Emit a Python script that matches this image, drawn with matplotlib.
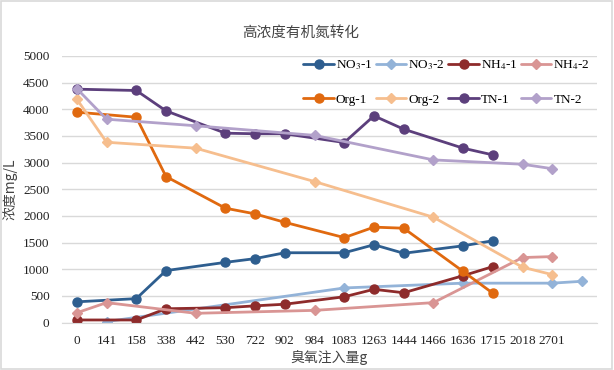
import numpy as np
import matplotlib
matplotlib.use('Agg')
import matplotlib.pyplot as plt
from matplotlib.patches import Rectangle

plt.rcParams['font.family'] = ['Liberation Serif', 'Noto Sans CJK SC']
plt.rcParams['mathtext.fontset'] = 'stix'

# ozone dose categories (last slot has no label)
categories = ['0', '141', '158', '338', '442', '530', '722', '902', '984', '1083',
              '1263', '1444', '1466', '1636', '1715', '2018', '2701', '']

N = None
no3_1 = [390, N, 450, 975, N, 1130, 1200, 1310, N, 1310, 1460, 1300, N, 1440, 1535, N, N, N]
no3_2 = [N, 20, N, N, N, N, N, N, N, 650, N, N, N, 740, N, N, 740, 775]
nh4_1 = [50, N, 50, 260, N, 280, 315, 345, N, 485, 625, 560, N, 880, 1050, N, N, N]
nh4_2 = [185, 375, N, N, 175, N, N, N, 230, N, N, N, 375, N, N, 1220, 1238, N]
org_1 = [3945, N, 3850, 2738, N, 2145, 2038, 1880, N, 1594, 1790, 1770, N, 960, 551, N, N, N]
org_2 = [4188, 3381, N, N, 3270, N, N, N, 2644, N, N, N, 1976, N, N, 1039, 900, N]
tn_1 = [4376, N, 4351, 3969, N, 3551, 3540, 3540, N, 3376, 3876, 3626, N, 3270, 3144, N, N, N]
tn_2 = [4385, 3813, N, N, 3690, N, N, N, 3510, N, N, N, 3050, N, N, 2969, 2885, N]

series = [
    ('NO$_3$-1', no3_1, '#2E5E8F', 'o'),
    ('NO$_3$-2', no3_2, '#93B3D8', 'D'),
    ('NH$_4$-1', nh4_1, '#8E2B2B', 'o'),
    ('NH$_4$-2', nh4_2, '#D99594', 'D'),
    ('Org-1', org_1, '#E0690F', 'o'),
    ('Org-2', org_2, '#F6BE8E', 'D'),
    ('TN-1', tn_1, '#5C3F7C', 'o'),
    ('TN-2', tn_2, '#B2A1CA', 'D'),
]

fig = plt.figure(figsize=(6.14, 3.70), dpi=100)
ax = fig.add_axes([0.101, 0.128, 0.871, 0.721])

handles = []
for label, vals, color, mk in series:
    idx = [i for i, v in enumerate(vals) if v is not None]
    y = [vals[i] for i in idx]
    ms = 6.5 if mk == 'o' else 5.5
    h, = ax.plot(idx, y, color=color, marker=mk, markersize=ms, linewidth=2.0,
                 label=label, solid_capstyle='round')
    handles.append(h)

ax.set_xlim(-0.5, len(categories) - 0.5)
ax.set_ylim(0, 5000)
ax.set_yticks(np.arange(0, 5001, 500))
ax.set_xticks(range(len(categories)))
ax.set_xticklabels(categories)
ax.tick_params(axis='both', length=0, labelsize=9.5, colors='#222222')
ax.tick_params(axis='x', pad=9)
ax.tick_params(axis='y', pad=9)
ax.grid(axis='y', color='#D9D9D9', linewidth=1)
ax.set_axisbelow(True)
for s in ['top', 'right', 'left']:
    ax.spines[s].set_visible(False)
ax.spines['bottom'].set_color('#D9D9D9')

ax.set_xlabel('臭氧注入量g', fontsize=10, color='#444444',
              family=['Noto Sans CJK SC', 'Liberation Serif'], labelpad=2)
ax.set_ylabel('浓度mg/L', fontsize=10, color='#444444',
              family=['Noto Sans CJK SC', 'Liberation Serif'], labelpad=4)

fig.text(0.49, 0.91, '高浓度有机氮转化', ha='center', va='center', fontsize=10.5,
         color='#444444', family=['Noto Sans CJK SC'])

# matplotlib fills legend column by column; reorder so rows read left to right
order = [0, 4, 1, 5, 2, 6, 3, 7]
ax.legend([handles[i] for i in order], [series[i][0] for i in order],
          loc='upper right', bbox_to_anchor=(1.0, 1.015), ncol=4, frameon=False,
          fontsize=9.5, handlelength=2.3, handletextpad=0.15, columnspacing=0.25,
          labelspacing=1.6, borderaxespad=0.1)

fig.patches.append(Rectangle((0.002, 0.003), 0.995, 0.994, transform=fig.transFigure,
                             fill=False, edgecolor='#D9D9D9', linewidth=1.2))

fig.savefig('out.png', dpi=100)
